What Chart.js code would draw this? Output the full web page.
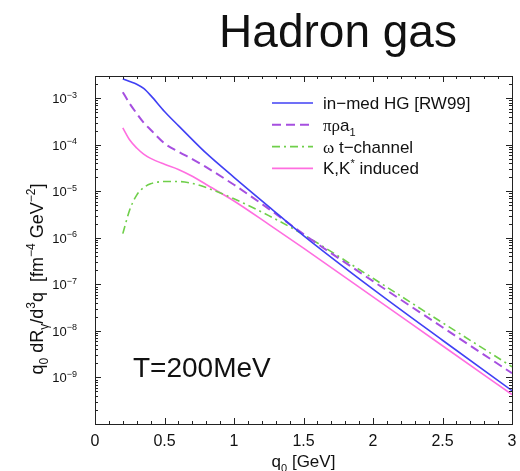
<!DOCTYPE html>
<html>
<head>
<meta charset="utf-8">
<title>Hadron gas</title>
<script src="https://cdn.jsdelivr.net/npm/chart.js@4.4.1/dist/chart.umd.min.js"></script>
<style>
  html, body { margin: 0; padding: 0; background: #fff; }
  canvas { display: block; }
</style>
</head>
<body>
<canvas id="rates" width="520" height="471"></canvas>
<script>
// ---------- Data (photon rates vs q0, T = 200 MeV) ----------
const q0 = [0.2, 0.25, 0.3, 0.35, 0.4, 0.5, 0.6, 0.7, 0.8, 1.0, 1.25, 1.5, 2.0, 2.5, 3.0];
const inMedHG = [2.6e-3, 2.29e-3, 2.0e-3, 1.62e-3, 1.15e-3, 5.2e-4, 2.57e-4, 1.29e-4, 6.6e-5, 2.0e-5, 4.7e-6, 1.12e-6, 7.9e-8, 6.3e-9, 5.2e-10];
const piRhoA1 = [1.35e-3, 7.6e-4, 4.7e-4, 3.0e-4, 2.1e-4, 1.07e-4, 7.1e-5, 4.9e-5, 3.3e-5, 1.38e-5, 4.2e-6, 1.2e-6, 1.17e-7, 1.2e-8, 1.23e-9];
const omegaT = [1.23e-6, 4.0e-6, 8.3e-6, 1.2e-5, 1.45e-5, 1.62e-5, 1.62e-5, 1.48e-5, 1.2e-5, 6.9e-6, 3.0e-6, 1.17e-6, 1.35e-7, 1.5e-8, 1.7e-9];
const kaonInduced = [2.3e-4, 1.26e-4, 8.5e-5, 6.3e-5, 5.1e-5, 3.8e-5, 2.95e-5, 2.1e-5, 1.4e-5, 6.2e-6, 1.95e-6, 6.0e-7, 5.4e-8, 4.8e-9, 4.3e-10];

const xTickValues = [0, 0.5, 1, 1.5, 2, 2.5, 3];
const xTickLabels = ["0", "0.5", "1", "1.5", "2", "2.5", "3"];
const yDecades = [-3, -4, -5, -6, -7, -8, -9];

const SANS = '"Liberation Sans", Arial, sans-serif';
const SERIF = '"Liberation Serif", "Times New Roman", serif';

// legend entries: text pieces ({t, k: 'sup'|'sub', f: font})
const legendText = [
  [{ t: "in\u2212med HG [RW99]" }],
  [{ t: "\u03c0\u03c1", f: SERIF }, { t: "a" }, { t: "1", k: "sub" }],
  [{ t: "\u03c9", f: SERIF }, { t: " t\u2212channel" }],
  [{ t: "K,K" }, { t: "*", k: "sup" }, { t: " induced" }]
];

function pts(ys) { return q0.map((x, i) => ({ x: x, y: ys[i] })); }

// ---------- Rich text helpers (sub/superscripts) ----------
function partFont(p, size) {
  const fs = p.k ? Math.round(size * 0.66) : size;
  return fs + "px " + (p.f || SANS);
}
function richWidth(ctx, parts, size) {
  let w = 0;
  parts.forEach(p => { ctx.font = partFont(p, size); w += ctx.measureText(p.t).width; });
  return w;
}
function drawRich(ctx, parts, x, y, size, align) {
  const w = richWidth(ctx, parts, size);
  let cx = align === "center" ? x - w / 2 : align === "right" ? x - w : x;
  ctx.textAlign = "left";
  ctx.textBaseline = "alphabetic";
  parts.forEach(p => {
    ctx.font = partFont(p, size);
    const dy = p.k === "sup" ? -size * 0.42 : p.k === "sub" ? size * 0.28 : 0;
    ctx.fillText(p.t, cx, y + dy);
    cx += ctx.measureText(p.t).width;
  });
}

// ---------- Frame, ticks, labels, legend ----------
const framePlugin = {
  id: "frame",
  afterDraw(chart) {
    const { ctx, chartArea: a, scales } = chart;
    const xs = scales.x, ys = scales.y;
    ctx.save();
    ctx.strokeStyle = "#222";
    ctx.fillStyle = "#111";
    ctx.lineWidth = 1;

    // border
    ctx.strokeRect(Math.round(a.left) + 0.5, Math.round(a.top) + 0.5,
      Math.round(a.right - a.left), Math.round(a.bottom - a.top));

    ctx.beginPath();
    // x ticks, every 0.1, major every 0.5 (bottom and top, inward)
    for (let i = 0; i <= 30; i++) {
      const px = Math.round(xs.getPixelForValue(i / 10)) + 0.5;
      const len = i % 5 === 0 ? 6 : 3;
      ctx.moveTo(px, a.bottom); ctx.lineTo(px, a.bottom - len);
      ctx.moveTo(px, a.top); ctx.lineTo(px, a.top + len);
    }
    // y ticks, log decades with minors 2..9 (left and right, inward)
    for (let e = -10; e <= -3; e++) {
      for (let m = 1; m <= 9; m++) {
        const v = m * Math.pow(10, e);
        if (v < ys.min || v > ys.max) continue;
        const py = Math.round(ys.getPixelForValue(v)) + 0.5;
        const len = m === 1 ? 6 : 3;
        ctx.moveTo(a.left, py); ctx.lineTo(a.left + len, py);
        ctx.moveTo(a.right, py); ctx.lineTo(a.right - len, py);
      }
    }
    ctx.stroke();

    // x tick labels
    xTickValues.forEach((v, i) => {
      drawRich(ctx, [{ t: xTickLabels[i] }], xs.getPixelForValue(v), a.bottom + 22, 16, "center");
    });
    // y tick labels 10^n
    yDecades.forEach(e => {
      const py = ys.getPixelForValue(Math.pow(10, e));
      drawRich(ctx, [{ t: "10" }, { t: "\u2212" + (-e), k: "sup" }], a.left - 18, py + 5, 13, "right");
    });

    // axis titles
    drawRich(ctx, [{ t: "q" }, { t: "0", k: "sub" }, { t: " [GeV]" }], (a.left + a.right) / 2, a.bottom + 43, 17, "center");
    ctx.save();
    ctx.translate(43, 279);
    ctx.rotate(-Math.PI / 2);
    drawRich(ctx, [
      { t: "q" }, { t: "0", k: "sub" }, { t: " dR" }, { t: "\u03b3", k: "sub" },
      { t: "/d" }, { t: "3", k: "sup" }, { t: "q  [fm" }, { t: "\u22124", k: "sup" },
      { t: " GeV" }, { t: "\u22122", k: "sup" }, { t: "]" }
    ], 0, 0, 18, "center");
    ctx.restore();

    // temperature label and title
    drawRich(ctx, [{ t: "T=200MeV" }], 133, 377, 28, "left");
    drawRich(ctx, [{ t: "Hadron gas" }], 338, 47, 46, "center");

    // legend
    chart.data.datasets.forEach((ds, i) => {
      const cy = 103 + i * 21.8;
      ctx.save();
      ctx.strokeStyle = ds.borderColor;
      ctx.lineWidth = ds.borderWidth;
      ctx.setLineDash(ds.borderDash || []);
      ctx.beginPath();
      ctx.moveTo(272, cy); ctx.lineTo(313, cy);
      ctx.stroke();
      ctx.restore();
      drawRich(ctx, legendText[i], 323, cy + 6, 17, "left");
    });
    ctx.restore();
  }
};

// ---------- Chart ----------
const ctx = document.getElementById("rates").getContext("2d");
new Chart(ctx, {
  type: "line",
  data: {
    datasets: [
      { label: "in-med HG [RW99]", data: pts(inMedHG), borderColor: "#4040f4", borderWidth: 1.6 },
      { label: "pi rho a1", data: pts(piRhoA1), borderColor: "#a64fe0", borderWidth: 2, borderDash: [9, 5] },
      { label: "omega t-channel", data: pts(omegaT), borderColor: "#6fcf4a", borderWidth: 1.6, borderDash: [8, 4, 2, 4] },
      { label: "K,K* induced", data: pts(kaonInduced), borderColor: "#ff6ee0", borderWidth: 1.6 }
    ]
  },
  options: {
    responsive: false,
    animation: false,
    layout: { padding: { left: 95, right: 8, top: 76, bottom: 47 } },
    elements: {
      point: { radius: 0 },
      line: { cubicInterpolationMode: "monotone", fill: false }
    },
    plugins: { legend: { display: false }, tooltip: { enabled: false } },
    scales: {
      x: { type: "linear", min: 0, max: 3, display: false },
      y: { type: "logarithmic", min: 1e-10, max: 3e-3, display: false }
    }
  },
  plugins: [framePlugin]
});
</script>
</body>
</html>
